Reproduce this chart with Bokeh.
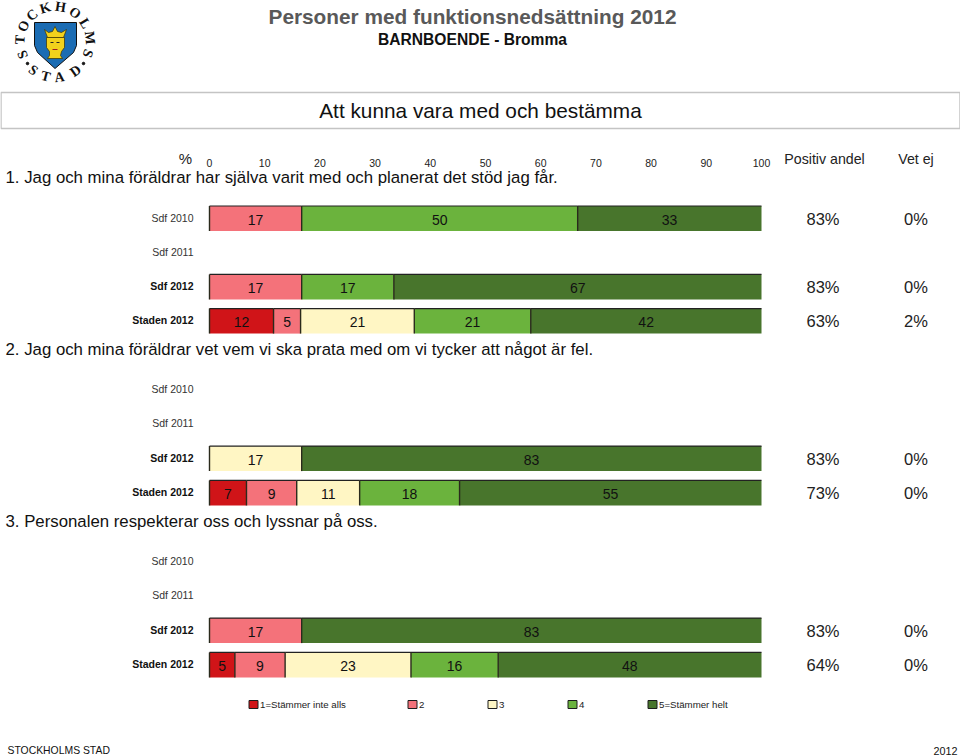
import math

from bokeh.core.properties import value
from bokeh.embed import file_html
from bokeh.models import ColumnDataSource, Range1d
from bokeh.plotting import figure
from bokeh.resources import INLINE

FONT = "Liberation Sans"

x_ticks = [0, 10, 20, 30, 40, 50, 60, 70, 80, 90, 100]
group_labels = ["Sdf 2010", "Sdf 2011", "Sdf 2012", "Staden 2012"]
level_labels = ["1=Stämmer inte alls", "2", "3", "4", "5=Stämmer helt"]
level_colors = ["#d01418", "#f4727a", "#fff6c4", "#6bb33d", "#48752c"]

questions = [
    "1. Jag och mina föräldrar har själva varit med och planerat det stöd jag får.",
    "2. Jag och mina föräldrar vet vem vi ska prata med om vi tycker att något är fel.",
    "3. Personalen respekterar oss och lyssnar på oss.",
]

# one row per group, one value per level (None = no answers in that level)
q1_values = [[None, 16.7, None, 50, 33.3], None, [None, 16.7, None, 16.7, 66.6], [11.6, 4.9, 20.6, 21.1, 41.8]]
q2_values = [None, None, [None, None, 16.7, None, 83.3], [6.7, 9.1, 11.4, 18.1, 54.7]]
q3_values = [None, None, [None, 16.7, None, None, 83.3], [4.6, 9.1, 22.8, 15.8, 47.7]]

q1_positive = ["83%", None, "83%", "63%"]
q2_positive = [None, None, "83%", "73%"]
q3_positive = [None, None, "83%", "64%"]
q1_dontknow = ["0%", None, "0%", "2%"]
q2_dontknow = [None, None, "0%", "0%"]
q3_dontknow = [None, None, "0%", "0%"]

all_values = [q1_values, q2_values, q3_values]
all_positive = [q1_positive, q2_positive, q3_positive]
all_dontknow = [q1_dontknow, q2_dontknow, q3_dontknow]

# page layout, in pixels
X0, X100 = 209.0, 761.0
first_row = [218, 389.5, 561.5]
row_step = [34.2, 34.3, 34.3]
BAR_H = 25

per_px = 100 / (X100 - X0)
p = figure(width=960, height=756, output_backend="svg", toolbar_location=None,
           x_range=Range1d(-X0 * per_px, (960 - X0) * per_px), y_range=Range1d(756, 0),
           min_border=0, outline_line_color=None, x_axis_type=None, y_axis_type=None)
p.extra_x_ranges = {"px": Range1d(0, 960)}
p.grid.visible = False


def page_text(x, y, text, size=14, color="#000000", align="left", style="normal", font=FONT, angle=0):
    p.text([x], [y], text=[text], x_range_name="px", text_font=value(font), text_font_size=f"{size}px",
           text_color=color, text_align=align, text_baseline="middle", text_font_style=style, angle=angle)


# percent scale above the first question
p.text(x_ticks, [162] * len(x_ticks), text=[str(t) for t in x_ticks], text_font=value(FONT), text_font_size="10.5px",
       text_color="#222222", text_align="center", text_baseline="middle")

# bars
lefts, rights, ys, colors = [], [], [], []
lab_x, lab_y, lab_text = [], [], []
for q, rows in enumerate(all_values):
    for r, vals in enumerate(rows):
        y = first_row[q] + r * row_step[q]
        if vals is None:
            continue
        start = 0
        for level, v in enumerate(vals):
            if not v:
                continue
            end = start + v
            lefts.append(start)
            rights.append(end)
            ys.append(y)
            colors.append(level_colors[level])
            lab_x.append((start + end) / 2)
            lab_y.append(y + 1)
            lab_text.append(f"{v:.0f}")
            start = end

bars = ColumnDataSource(dict(left=lefts, right=rights, y=ys, color=colors,
                             top=[y - BAR_H / 2 for y in ys], bottom=[y + BAR_H / 2 for y in ys]))
p.hbar(y="y", left="left", right="right", height=BAR_H, fill_color="color", line_color=None, source=bars)
# the bars only have a dark edge on top and to the left of each block
p.segment(x0="left", x1="right", y0="top", y1="top", line_color="#222222", line_width=1.2, source=bars)
p.segment(x0="left", x1="left", y0="top", y1="bottom", line_color="#2a2a1c", line_width=1.4, source=bars)
p.text(lab_x, lab_y, text=lab_text, text_font=value(FONT), text_font_size="14px", text_color="#111111",
       text_align="center", text_baseline="middle")

# row labels and the two right hand columns
for q, rows in enumerate(all_values):
    page_text(5, first_row[q] - 41, questions[q], size=16.8, color="#111111")
    for r, label in enumerate(group_labels):
        y = first_row[q] + r * row_step[q]
        bold = rows[r] is not None and r >= 2
        page_text(193, y - 1, label, size=10.5, color="#111111" if bold else "#333333", align="right",
                  style="bold" if bold else "normal")
        if all_positive[q][r]:
            page_text(822.5, y, all_positive[q][r], size=16.5, color="#222222", align="center")
        if all_dontknow[q][r]:
            page_text(915.5, y, all_dontknow[q][r], size=16.5, color="#222222", align="center")

# header
page_text(472, 16, "Personer med funktionsnedsättning 2012", size=20.8, color="#595959", align="center", style="bold")
page_text(472, 38.5, "BARNBOENDE - Bromma", size=15.6, color="#111111", align="center", style="bold")
p.quad(left=[0.5], right=[959.5], top=[92], bottom=[128], x_range_name="px", fill_color="#ffffff",
       line_color="#c4c4c4", line_width=1.5)
page_text(480, 109.5, "Att kunna vara med och bestämma", size=20.8, color="#111111", align="center")
page_text(185, 158, "%", size=15, color="#222222", align="center")
page_text(824, 158, "Positiv andel", size=14.2, color="#222222", align="center")
page_text(915.5, 158, "Vet ej", size=14.2, color="#222222", align="center")

# legend
legend_x = [248.5, 407.5, 487.5, 567.5, 647.5]
for x, label, color in zip(legend_x, level_labels, level_colors):
    p.quad(left=[x], right=[x + 9], top=[700], bottom=[708], x_range_name="px", fill_color=color,
           line_color="#1c1c1c", line_width=1)
    page_text(x + 11, 704, label, size=9.7, color="#222222")

# footer
page_text(7, 750, "STOCKHOLMS STAD", size=10.4, color="#111111")
page_text(957, 750, "2012", size=10.8, color="#111111", align="right")

# logo, letters on a ring around the shield
CX, CY, RING = 54.5, 41, 35
top_letters = list("STOCKHOLMS")
top_angles = [-112, -87, -64, -41, -16, 9, 35, 59, 84, 110]
for ch, a in zip(top_letters, top_angles):
    rad = math.radians(a)
    page_text(CX + RING * math.sin(rad), CY - RING * math.cos(rad), ch, size=14, color="#111111", align="center",
              style="bold", font="Liberation Serif", angle=-rad)
bottom_letters = list("STAD")
bottom_angles = [-143, -165, 173, 145]
for ch, a in zip(bottom_letters, bottom_angles):
    rad = math.radians(a)
    page_text(CX + 36 * math.sin(rad), CY - 36 * math.cos(rad), ch, size=14, color="#111111", align="center",
              style="bold", font="Liberation Serif", angle=math.pi - rad)
p.scatter([27, 83], [63, 63], x_range_name="px", size=2.5, color="#111111")

p.patch([34, 76, 76, 73, 54.5, 37, 34, 34], [22, 22, 45, 52, 68, 52, 45, 22], x_range_name="px",
        fill_color="#1b6cb3", line_color="#111111", line_width=1)
p.patch([44, 48, 52, 54.5, 57, 61, 66, 63, 47], [29, 32, 31, 26, 31, 32, 29, 37, 37], x_range_name="px",
        fill_color="#f2d21c", line_color="#3a3000", line_width=0.7)
p.patch([46, 64, 64, 61, 60, 62, 47, 49, 49, 46], [37, 37, 47, 51, 55, 58, 58, 55, 51, 47], x_range_name="px",
        fill_color="#f2d21c", line_color="#3a3000", line_width=0.7)
p.line([50, 53], [42, 42], x_range_name="px", line_color="#222222", line_width=1)
p.line([56, 59], [42, 42], x_range_name="px", line_color="#222222", line_width=1)
p.line([52, 57], [49, 49], x_range_name="px", line_color="#a02020", line_width=1)

open("out.html", "w").write(file_html(p, INLINE))
